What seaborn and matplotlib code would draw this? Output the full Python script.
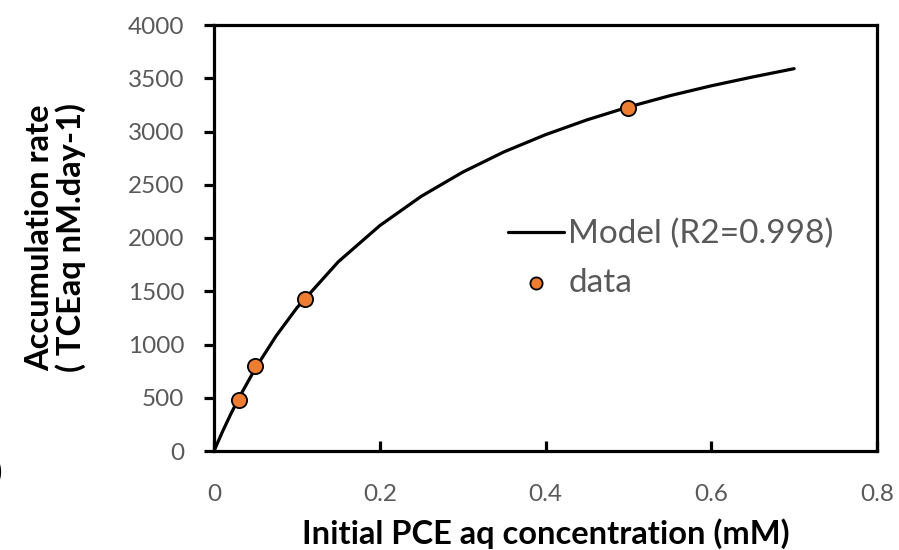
import matplotlib
matplotlib.use("Agg")
import matplotlib.pyplot as plt
import seaborn as sns
import pandas as pd

# Model curve
model_x = [0.0, 0.01, 0.02, 0.03, 0.05, 0.075, 0.1, 0.15, 0.2, 0.25, 0.3, 0.35, 0.4, 0.45, 0.5, 0.55, 0.6, 0.65, 0.7]
model_y = [0, 178, 343, 497, 777, 1081, 1344, 1777, 2116, 2391, 2618, 2809, 2970, 3109, 3230, 3336, 3429, 3512, 3590]
# Measured data
data_x = [0.03, 0.05, 0.11, 0.5]
data_y = [475, 795, 1430, 3225]

x_ticks = [0, 0.2, 0.4, 0.6, 0.8]
x_tick_labels = ["0", "0.2", "0.4", "0.6", "0.8"]
y_ticks = [0, 500, 1000, 1500, 2000, 2500, 3000, 3500, 4000]

sns.set_theme(style="white")
plt.rcParams['font.family'] = ['Lato', 'DejaVu Sans']

fig = plt.figure(figsize=(8.99, 5.50), dpi=100)
ax = fig.add_axes([214/899, 1-451/550, (877-214)/899, (451-25)/550])

dm = pd.DataFrame({"x": model_x, "y": model_y})
dd = pd.DataFrame({"x": data_x, "y": data_y})

sns.lineplot(data=dm, x="x", y="y", ax=ax, color="black", linewidth=2.3,
             label="Model (R2=0.998)", sort=False)
sns.scatterplot(data=dd, x="x", y="y", ax=ax, color="#ED7D31", edgecolor="black",
                linewidth=1.3, s=120, label="data", zorder=5)

ax.set_xlim(0, 0.8)
ax.set_ylim(0, 4000)
ax.set_xticks(x_ticks)
ax.set_xticklabels(x_tick_labels)
ax.set_yticks(y_ticks)
for s in ax.spines.values():
    s.set_color("black")
    s.set_linewidth(2.3)
ax.tick_params(axis="y", direction="out", length=7.5, width=2.3, color="black",
               labelsize=17.5, labelcolor="#595959", pad=14, left=True)
ax.tick_params(axis="x", direction="in", length=7, width=2.3, color="black",
               labelsize=17.5, labelcolor="#595959", pad=24, bottom=True)
ax.set_xlabel("Initial PCE aq concentration (mM)", fontsize=23.5, fontweight="bold",
              color="black", labelpad=9)
ax.set_ylabel("Accumulation rate\n( TCEaq nM.day-1)", fontsize=23.5, fontweight="bold",
              color="black", labelpad=30, linespacing=1.05)

leg = ax.legend(loc="upper left", bbox_to_anchor=(0.443, 0.545), frameon=False,
                fontsize=24, handlelength=1.7, handletextpad=0.12,
                labelspacing=0.55, borderaxespad=0, borderpad=0, markerscale=0.8)
for t in leg.get_texts():
    t.set_color("#595959")

fig.text(-0.006, 1-472/550, ")", fontsize=20, color="black", va="center", ha="left")

fig.savefig("out.png", dpi=100)
